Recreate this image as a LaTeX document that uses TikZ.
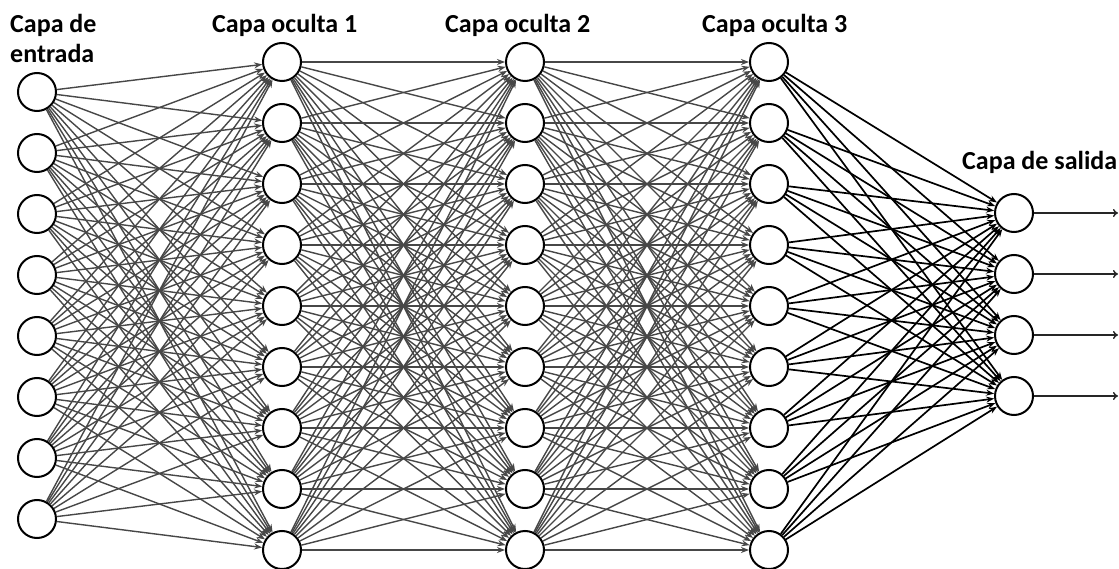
\documentclass[tikz,border=0pt]{standalone}
\usepackage{fontspec}
\setsansfont{Carlito}
\usetikzlibrary{arrows.meta}

\tikzset{
  neuron/.style={circle, draw, line width=2pt, fill=white, inner sep=0pt, minimum size=38pt},
  link/.style={draw=black!72, line width=1.4pt, -{Stealth[length=8pt,width=6pt]}},
  linkout/.style={draw=black, line width=1.7pt, -{Stealth[length=8pt,width=6pt]}},
  outarrow/.style={draw=black!85, line width=1.4pt, -{To[length=5pt,width=8pt]}},
  layername/.style={font=\sffamily\bfseries\fontsize{26}{30}\selectfont, anchor=base west, inner sep=0pt},
}

\begin{document}
\begin{tikzpicture}[x=1pt,y=-1pt]
  \useasboundingbox (0,0) rectangle (1119,569);

  % neurons
  \foreach \i in {1,...,8}
    \node[neuron] (e\i) at (37, 31+61*\i) {};
  \foreach \l/\x in {1/282, 2/525, 3/769}
    \foreach \j in {1,...,9}
      \node[neuron] (h\l-\j) at (\x, 1+61*\j) {};
  \foreach \k in {1,...,4}
    \node[neuron] (s\k) at (1014, 152+61*\k) {};

  % connections
  \foreach \i in {1,...,8}
    \foreach \j in {1,...,9}
      \draw[link] (e\i) -- (h1-\j);
  \foreach \i in {1,...,9}
    \foreach \j in {1,...,9} {
      \draw[link] (h1-\i) -- (h2-\j);
      \draw[link] (h2-\i) -- (h3-\j);
    }
  \foreach \i in {1,...,9}
    \foreach \k in {1,...,4}
      \draw[linkout] (h3-\i) -- (s\k);

  % outputs
  \foreach \k in {1,...,4} {
    \coordinate (y\k) at (1118, 152+61*\k);
    \draw[outarrow] (s\k) -- (y\k);
  }

  % layer names
  \node[layername] (nin)  at (10, 33)  {Capa de};
  \node[layername] (nin2) at (10, 63)  {entrada};
  \node[layername] (nh1)  at (212, 33) {Capa oculta 1};
  \node[layername] (nh2)  at (445, 33) {Capa oculta 2};
  \node[layername] (nh3)  at (702, 33) {Capa oculta 3};
  \node[layername] (nout) at (962, 170) {Capa de salida};
\end{tikzpicture}
\end{document}
